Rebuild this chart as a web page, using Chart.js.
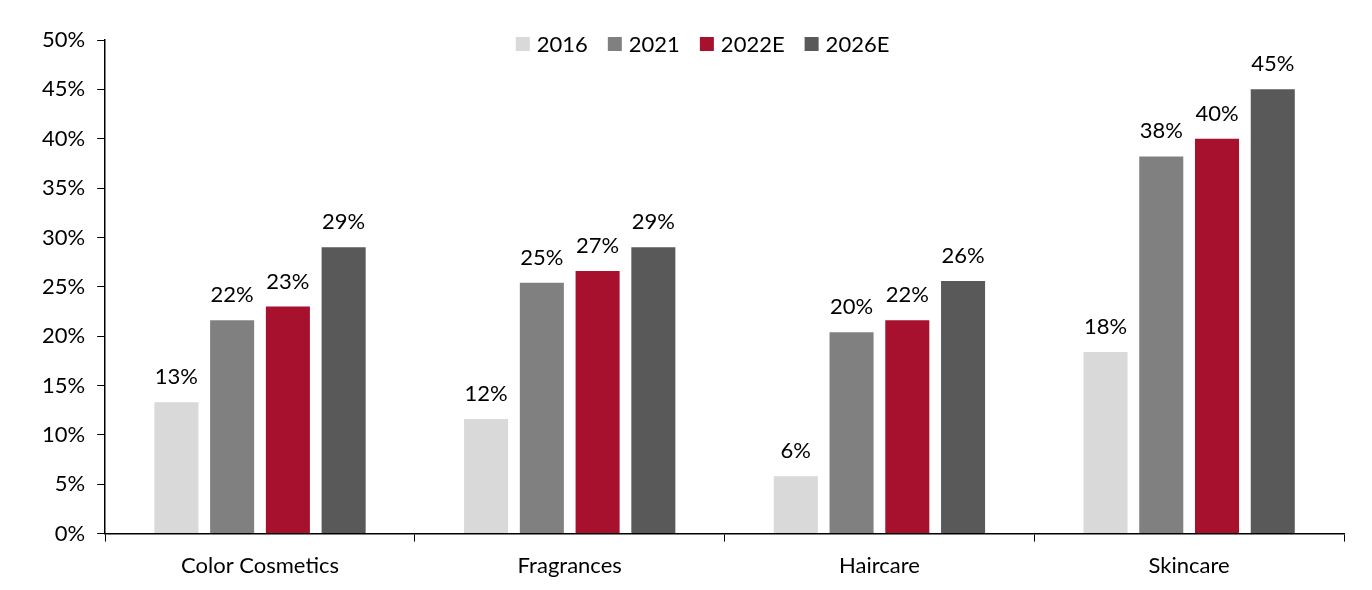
<!DOCTYPE html>
<html><head><meta charset="utf-8">
<script src="https://cdn.jsdelivr.net/npm/chart.js@4"></script>
<style>html,body{margin:0;padding:0;background:#fff}#wrap{width:1372px;height:590px}</style>
</head><body><div id="wrap"><canvas id="c" width="1372" height="590"></canvas></div>
<script>
const categories = ["Color Cosmetics", "Fragrances", "Haircare", "Skincare"];
const seriesNames = ["2016", "2021", "2022E", "2026E"];
const s2016 = [13.3, 11.6, 5.8, 18.4];
const s2021 = [21.6, 25.4, 20.4, 38.2];
const s2022E = [23.0, 26.6, 21.6, 40.0];
const s2026E = [29.0, 29.0, 25.6, 45.0];
const colors = ["#D9D9D9", "#808080", "#A8112D", "#595959"];
const yTicks = [0,5,10,15,20,25,30,35,40,45,50];

const FONT = "Lato, 'Open Sans', sans-serif";
const FS = 22;
const valueLabels = {
  id: 'valueLabels',
  afterDatasetsDraw(chart) {
    const ctx = chart.ctx;
    ctx.save();
    ctx.font = FS + "px " + FONT;
    ctx.fillStyle = "#000";
    ctx.textAlign = "center";
    ctx.textBaseline = "alphabetic";
    chart.data.datasets.forEach((ds, i) => {
      chart.getDatasetMeta(i).data.forEach((bar, j) => {
        ctx.fillText(Math.round(ds.data[j]) + "%", bar.x, bar.y - 18);
      });
    });
    ctx.restore();
  }
};

// legend drawn inside the chart area at the top
const topLegend = {
  id: 'topLegend',
  afterDraw(chart) {
    const ctx = chart.ctx;
    ctx.save();
    ctx.font = FS + "px " + FONT;
    ctx.textBaseline = "middle";
    ctx.textAlign = "left";
    const box = 14, gapBoxText = 7, gapItems = 20;
    const items = chart.data.datasets.map(ds => ({ label: ds.label, color: ds.backgroundColor, w: ctx.measureText(ds.label).width }));
    const total = items.reduce((s, it) => s + box + gapBoxText + it.w, 0) + gapItems * (items.length - 1);
    const area = chart.chartArea;
    let x = (area.left + area.right) / 2 - 22 - total / 2;
    const cy = area.top + 4;
    items.forEach(it => {
      ctx.fillStyle = it.color;
      ctx.fillRect(x, cy - box / 2, box, box);
      x += box + gapBoxText;
      ctx.fillStyle = "#000";
      ctx.fillText(it.label, x, cy + 1);
      x += it.w + gapItems;
    });
    ctx.restore();
  }
};

const allSeries = [s2016, s2021, s2022E, s2026E];
new Chart(document.getElementById('c'), {
  type: 'bar',
  data: {
    labels: categories,
    datasets: allSeries.map((d, i) => ({
      label: seriesNames[i], data: d, backgroundColor: colors[i],
      categoryPercentage: 0.72, barPercentage: 0.79
    }))
  },
  options: {
    responsive: false, animation: false,
    layout: { padding: { top: 40, right: 28, bottom: 0, left: 30 } },
    plugins: {
      legend: { display: false },
      tooltip: { enabled: false }
    },
    scales: {
      x: {
        grid: { drawOnChartArea: false, color: '#000', tickLength: 8, offset: true },
        border: { color: '#000', width: 1.5 },
        ticks: { font: { family: FONT, size: FS }, color: '#000', padding: 11 }
      },
      y: {
        min: 0, max: 50,
        afterBuildTicks: (ax) => { ax.ticks = yTicks.map(v => ({ value: v })); },
        grid: { drawOnChartArea: false, color: '#000', tickLength: 8 },
        border: { color: '#000', width: 1.5 },
        ticks: { font: { family: FONT, size: FS }, color: '#000', padding: 12, callback: v => v + '%' }
      }
    }
  },
  plugins: [valueLabels, topLegend]
});
</script></body></html>
